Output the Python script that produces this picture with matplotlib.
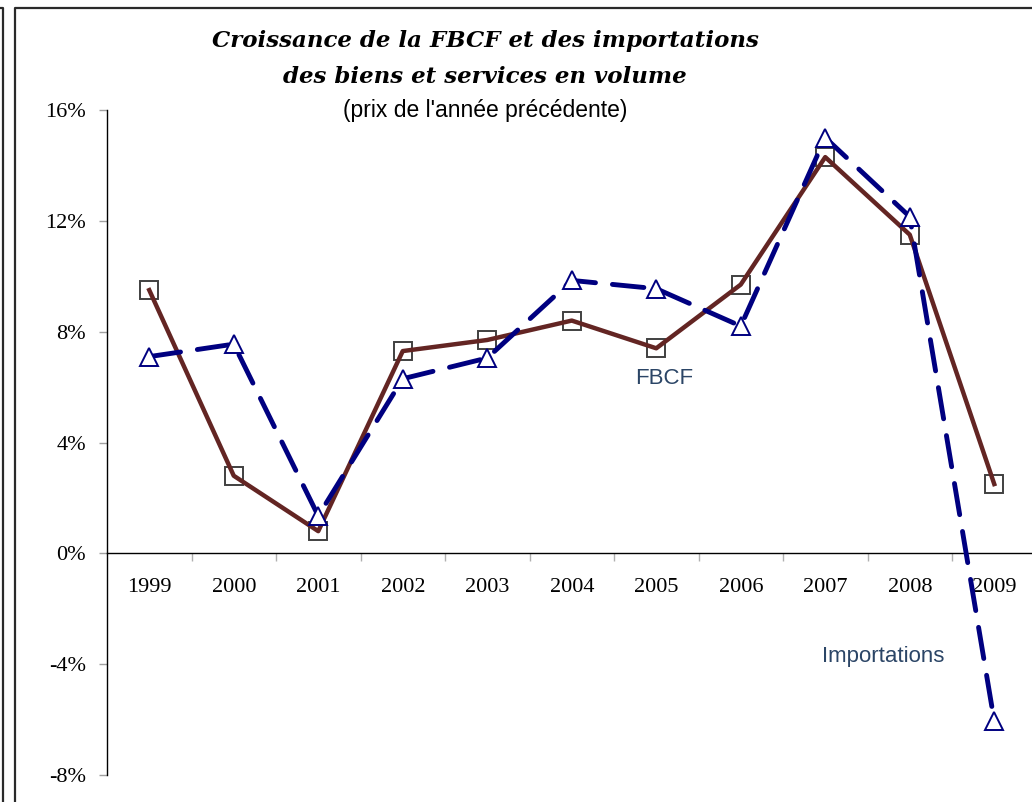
import matplotlib
matplotlib.use('Agg')
import matplotlib.pyplot as plt
from matplotlib.lines import Line2D
import numpy as np

years = ['1999', '2000', '2001', '2002', '2003', '2004', '2005', '2006', '2007', '2008', '2009']
fbcf = [9.5, 2.8, 0.8, 7.3, 7.7, 8.4, 7.4, 9.7, 14.3, 11.5, 2.5]
importations = [7.1, 7.55, 1.35, 6.3, 7.05, 9.85, 9.55, 8.2, 15.0, 12.15, -6.05]
yticks = [-8, -4, 0, 4, 8, 12, 16]

W, H = 1032, 802
fig = plt.figure(figsize=(W / 100, H / 100), dpi=100)

def px(x, y):
    return x / W, 1 - y / H

# chart frame (cropped)
frame_col = '#2a2a2a'
fig.add_artist(Line2D([15 / W, 15 / W, 1.01], [-0.01, 1 - 8 / H, 1 - 8 / H],
                      transform=fig.transFigure, color=frame_col, lw=1.6))
fig.add_artist(Line2D([0, 3 / W, 3 / W], [1 - 8 / H, 1 - 8 / H, -0.01],
                      transform=fig.transFigure, color=frame_col, lw=1.6))

ax = fig.add_axes([107 / W, 1 - 775 / H, (1036.5 - 107) / W, (775 - 110) / H])
x = np.arange(len(years))

# squares under the brown line, triangles above the dashed line
ax.plot(x, fbcf, ls='none', marker='s', ms=12.5, mfc='none', mec='#404040', mew=1.4, zorder=2)
ax.plot(x, fbcf, color='#632523', lw=3.2, zorder=3)
ax.plot(x, importations, color='#000080', lw=3.5, dashes=(6.5, 3.5),
        dash_capstyle='round', zorder=4)
ax.plot(x, importations, ls='none', marker='^', ms=13, mfc='white', mec='#000080', mew=1.4, zorder=5)

ax.set_xlim(-0.5, len(years) - 0.5)
ax.set_ylim(-8, 16)

for s in ['top', 'right']:
    ax.spines[s].set_visible(False)
ax.spines['left'].set_color('black')
ax.spines['left'].set_linewidth(1.0)
ax.spines['bottom'].set_position(('data', 0))
ax.spines['bottom'].set_color('black')
ax.spines['bottom'].set_linewidth(1.0)

ax.set_yticks(yticks)
ax.set_yticklabels([f'{v}%' for v in yticks], family='Liberation Serif', fontsize=16)
ax.tick_params(axis='y', direction='out', length=6, color='#a0a0a0', width=1, pad=9)

ax.set_xticks(x)
ax.set_xticklabels(years, family='Liberation Serif', fontsize=16)
ax.set_xticks(np.arange(0.5, len(years) - 0.5, 1), minor=True)
ax.tick_params(axis='x', which='major', length=0, pad=18)
ax.tick_params(axis='x', which='minor', direction='out', length=6, color='#b0b0b0', width=1)

lab_col = '#2b4566'
ax.text(6.09, 6.32, 'FBCF', color=lab_col, fontsize=16, family='Liberation Sans',
        ha='center', va='center')
ax.text(8.68, -3.72, 'Importations', color=lab_col, fontsize=16, family='Liberation Sans',
        ha='center', va='center')

fig.text(*px(485, 41), 'Croissance de la FBCF et des importations', ha='center', va='center',
         fontsize=16.5, fontweight='bold', style='italic', family='DejaVu Serif')
fig.text(*px(485, 77), 'des biens et services en volume', ha='center', va='center',
         fontsize=16.5, fontweight='bold', style='italic', family='DejaVu Serif')
fig.text(*px(485, 110), "(prix de l'année précédente)", ha='center', va='center',
         fontsize=16.5, family='Liberation Sans')

fig.savefig('out.png', dpi=100)
